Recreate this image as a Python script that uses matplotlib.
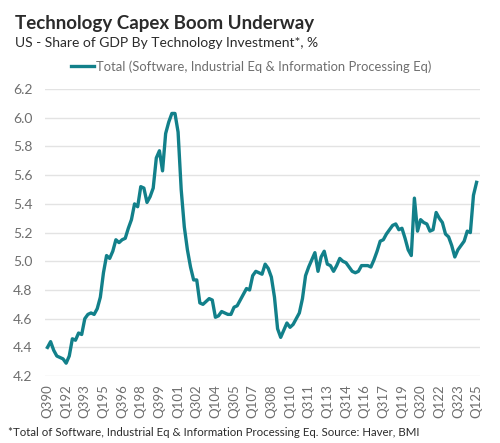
import matplotlib.pyplot as plt
import numpy as np

plt.rcParams['font.family'] = ['Lato', 'DejaVu Sans']

# quarterly, Q3 1990 .. Q1 2025
share = [4.40, 4.44, 4.38, 4.34, 4.33, 4.32, 4.29, 4.34, 4.46, 4.45,
         4.50, 4.49, 4.60, 4.63, 4.64, 4.63, 4.67, 4.75, 4.92, 5.04,
         5.02, 5.07, 5.15, 5.13, 5.15, 5.16, 5.23, 5.29, 5.40, 5.38,
         5.52, 5.51, 5.41, 5.45, 5.51, 5.72, 5.77, 5.63, 5.89, 5.97,
         6.03, 6.03, 5.90, 5.50, 5.24, 5.08, 4.96, 4.87, 4.87, 4.71,
         4.70, 4.72, 4.74, 4.73, 4.61, 4.62, 4.65, 4.64, 4.63, 4.63,
         4.68, 4.69, 4.73, 4.77, 4.81, 4.80, 4.90, 4.93, 4.92, 4.91,
         4.98, 4.95, 4.89, 4.75, 4.53, 4.47, 4.52, 4.57, 4.54, 4.56,
         4.60, 4.64, 4.74, 4.90, 4.96, 5.01, 5.06, 4.93, 5.03, 5.07,
         4.98, 4.97, 4.93, 4.97, 5.02, 5.00, 4.99, 4.96, 4.93, 4.92,
         4.93, 4.97, 4.97, 4.97, 4.96, 5.01, 5.07, 5.14, 5.15, 5.19,
         5.22, 5.25, 5.26, 5.22, 5.23, 5.16, 5.08, 5.04, 5.44, 5.21,
         5.29, 5.27, 5.26, 5.21, 5.22, 5.34, 5.30, 5.27, 5.19, 5.17,
         5.11, 5.03, 5.08, 5.11, 5.14, 5.21, 5.20, 5.46, 5.55]

tick_labels = ['Q390', 'Q192', 'Q393', 'Q195', 'Q396', 'Q198', 'Q399', 'Q101',
               'Q302', 'Q104', 'Q305', 'Q107', 'Q308', 'Q110', 'Q311', 'Q113',
               'Q314', 'Q116', 'Q317', 'Q119', 'Q320', 'Q122', 'Q323', 'Q125']
yticks = [4.2, 4.4, 4.6, 4.8, 5.0, 5.2, 5.4, 5.6, 5.8, 6.0, 6.2]

teal = '#12808a'
grey = '#6e6e6e'

fig = plt.figure(figsize=(5, 4.43), dpi=100)
ax = fig.add_axes([0.09, 0.151, 0.87, 0.648])

x = np.arange(len(share))
ax.plot(x, share, color=teal, lw=2.4, solid_joinstyle='round',
        label='Total (Software, Industrial Eq & Information Processing Eq)',
        clip_on=False)

ax.set_ylim(4.2, 6.2)
ax.set_xlim(-0.8, 139.1)
ax.set_yticks(yticks)
ax.set_yticklabels(['%.1f' % v for v in yticks])
ax.set_xticks(np.arange(0, len(share), 6))
ax.set_xticklabels(tick_labels, rotation=90)
ax.tick_params(length=0, colors=grey, labelsize=9.5)
ax.tick_params(axis='y', pad=9, labelsize=10)
ax.tick_params(axis='x', pad=6)
ax.grid(axis='y', color='#e3e3e3', lw=1)
ax.set_axisbelow(True)
for s in ax.spines.values():
    s.set_visible(False)

leg = ax.legend(loc='lower center', bbox_to_anchor=(0.474, 1.015), frameon=False,
                fontsize=9.4, handlelength=1.7, handletextpad=0.15)
for t in leg.get_texts():
    t.set_color(grey)

fig.text(0.03, 0.935, 'Technology Capex Boom Underway', fontsize=13.5,
         fontweight='bold', color='#2b2b2b')
fig.text(0.03, 0.893, 'US - Share of GDP By Technology Investment*, %',
         fontsize=10, color='#2b2b2b')
fig.text(0.016, 0.015, '*Total of Software, Industrial Eq & Information Processing Eq. Source: Haver, BMI',
         fontsize=8.3, color='#2b2b2b')

fig.savefig('out.png', dpi=100)
